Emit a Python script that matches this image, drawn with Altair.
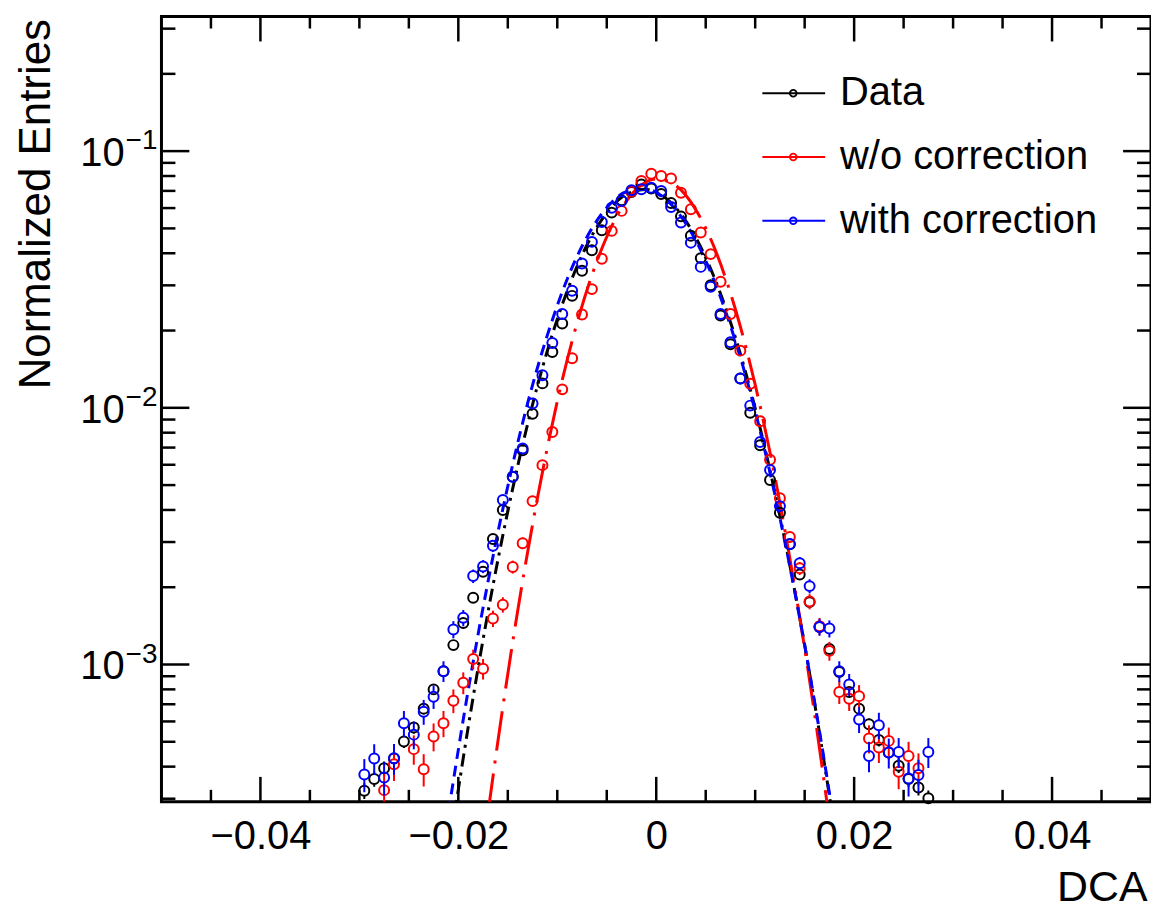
import altair as alt
import pandas as pd

FONT = "Liberation Sans"

# ---------------- data ----------------
dca_bins = [-0.0295, -0.0285, -0.0275, -0.0265, -0.0255, -0.0245, -0.0235, -0.0225, -0.0215, -0.0205,
            -0.0195, -0.0185, -0.0175, -0.0165, -0.0155, -0.0145, -0.0135, -0.0125, -0.0115, -0.0105,
            -0.0095, -0.0085, -0.0075, -0.0065, -0.0055, -0.0045, -0.0035, -0.0025, -0.0015, -0.0005,
            0.0005, 0.0015, 0.0025, 0.0035, 0.0045, 0.0055, 0.0065, 0.0075, 0.0085, 0.0095,
            0.0105, 0.0115, 0.0125, 0.0135, 0.0145, 0.0155, 0.0165, 0.0175, 0.0185, 0.0195,
            0.0205, 0.0215, 0.0225, 0.0235, 0.0245, 0.0255, 0.0265, 0.0275]

data_vals = [3.22e-4, 3.58e-4, 3.94e-4, 4.30e-4, 5.01e-4, 5.68e-4, 6.73e-4, 8.00e-4, 9.42e-4, 1.19e-3,
             1.45e-3, 1.82e-3, 2.30e-3, 3.08e-3, 4.00e-3, 5.39e-3, 6.84e-3, 9.49e-3, 1.245e-2, 1.65e-2,
             2.13e-2, 2.73e-2, 3.42e-2, 4.11e-2, 4.92e-2, 5.76e-2, 6.43e-2, 6.93e-2, 7.42e-2, 7.15e-2,
             6.81e-2, 6.28e-2, 5.57e-2, 4.68e-2, 3.83e-2, 3.00e-2, 2.29e-2, 1.77e-2, 1.30e-2, 9.56e-3,
             7.15e-3, 5.23e-3, 3.90e-3, 2.94e-3, 2.24e-3, 1.75e-3, 1.40e-3, 1.15e-3, 9.35e-4, 7.81e-4,
             6.73e-4, 5.85e-4, 5.08e-4, 4.54e-4, 4.03e-4, 3.58e-4, 3.32e-4, 3.01e-4]

wo_vals = [None, None, 3.24e-4, 4.09e-4, None, 4.68e-4, 3.91e-4, 5.24e-4, 5.90e-4, 7.23e-4,
           8.49e-4, 1.05e-3, 9.62e-4, 1.51e-3, 1.71e-3, 2.40e-3, 2.97e-3, 4.33e-3, 5.98e-3, 8.05e-3,
           1.18e-2, 1.56e-2, 2.31e-2, 2.90e-2, 3.81e-2, 4.89e-2, 5.85e-2, 6.96e-2, 7.65e-2, 8.16e-2,
           8.00e-2, 7.83e-2, 6.89e-2, 5.94e-2, 4.82e-2, 3.97e-2, 3.10e-2, 2.32e-2, 1.67e-2, 1.24e-2,
           8.87e-3, 6.27e-3, 4.44e-3, 3.14e-3, 2.37e-3, 1.76e-3, 1.41e-3, 1.13e-3, 7.81e-4, 7.36e-4,
           7.53e-4, 5.15e-4, 4.75e-4, 5.04e-4, 3.82e-4, 4.40e-4, 3.94e-4, None]

with_vals = [3.73e-4, 4.30e-4, 3.63e-4, 4.31e-4, 5.90e-4, 5.33e-4, 6.55e-4, 7.49e-4, 9.42e-4, 1.37e-3,
             1.52e-3, 2.21e-3, 2.41e-3, 2.90e-3, 4.37e-3, 5.39e-3, 6.94e-3, 1.04e-2, 1.34e-2, 1.79e-2,
             2.32e-2, 2.86e-2, 3.65e-2, 4.43e-2, 5.30e-2, 6.02e-2, 6.39e-2, 7.04e-2, 7.10e-2, 7.20e-2,
             6.99e-2, 6.06e-2, 5.27e-2, 4.40e-2, 3.54e-2, 2.96e-2, 2.32e-2, 1.80e-2, 1.30e-2, 1.02e-2,
             7.36e-3, 5.72e-3, 4.14e-3, 2.95e-3, 2.48e-3, 2.02e-3, 1.40e-3, 1.38e-3, 9.42e-4, 8.36e-4,
             6.11e-4, 4.40e-4, 5.80e-4, 4.54e-4, 4.56e-4, 3.60e-4, 3.71e-4, 4.56e-4]

series_names = ["Data", "w/o correction", "with correction"]
series_colors = ["#000000", "#ff0000", "#0000ff"]
# relative statistical uncertainty at an entry level of 1e-3
rel_err_at_1e3 = [0.04, 0.09, 0.09]

# fit curves
fit_data_x = [-0.0205, -0.019, -0.017, -0.015, -0.013, -0.011, -0.009, -0.007, -0.005, -0.003, -0.001,
              0.001, 0.003, 0.005, 0.007, 0.009, 0.011, 0.013, 0.015, 0.017, 0.018]
fit_data_y = [2.44e-4, 5.71e-4, 1.60e-3, 3.95e-3, 8.63e-3, 1.67e-2, 2.85e-2, 4.31e-2, 5.75e-2, 6.79e-2, 7.09e-2,
              6.55e-2, 5.34e-2, 3.85e-2, 2.46e-2, 1.39e-2, 6.92e-3, 3.05e-3, 1.19e-3, 4.10e-4, 2.30e-4]
fit_wo_x = [-0.017, -0.016, -0.014, -0.012, -0.010, -0.008, -0.006, -0.004, -0.002, 0.0,
            0.002, 0.004, 0.006, 0.008, 0.010, 0.012, 0.014, 0.016, 0.0175]
fit_wo_y = [2.64e-4, 5.02e-4, 1.62e-3, 4.46e-3, 1.06e-2, 2.14e-2, 3.72e-2, 5.56e-2, 7.11e-2, 7.79e-2,
            7.33e-2, 5.91e-2, 4.09e-2, 2.42e-2, 1.23e-2, 5.37e-3, 2.00e-3, 6.43e-4, 2.47e-4]
fit_with_x = [-0.021, -0.019, -0.017, -0.015, -0.013, -0.011, -0.009, -0.007, -0.005, -0.003, -0.001,
              0.001, 0.003, 0.005, 0.007, 0.009, 0.011, 0.013, 0.015, 0.017, 0.018]
fit_with_y = [2.66e-4, 7.95e-4, 2.10e-3, 4.95e-3, 1.04e-2, 1.92e-2, 3.17e-2, 4.63e-2, 6.02e-2, 6.95e-2, 7.11e-2,
              6.47e-2, 5.22e-2, 3.74e-2, 2.38e-2, 1.35e-2, 6.76e-3, 3.01e-3, 1.19e-3, 4.18e-4, 2.37e-4]

# axis ticks / labels
x_major_ticks = [-0.04, -0.02, 0.0, 0.02, 0.04]
x_minor_ticks = [-0.045, -0.035, -0.03, -0.025, -0.015, -0.01, -0.005,
                 0.005, 0.01, 0.015, 0.025, 0.03, 0.035, 0.045]
y_major_ticks = [1e-3, 1e-2, 1e-1]
y_major_exps = ["\u22123", "\u22122", "\u22121"]
y_minor_ticks = [3e-4, 4e-4, 5e-4, 6e-4, 7e-4, 8e-4, 9e-4,
                 2e-3, 3e-3, 4e-3, 5e-3, 6e-3, 7e-3, 8e-3, 9e-3,
                 2e-2, 3e-2, 4e-2, 5e-2, 6e-2, 7e-2, 8e-2, 9e-2,
                 2e-1, 3e-1]

# ---------------- layout ----------------
W, H = 993, 788
Y_LO, Y_HI = 2.918e-4, 0.3344
MARKER_R = 5.2  # px, open-circle radius; error bars stop at the marker edge
DECADE_PX = H / (__import__("math").log10(Y_HI) - __import__("math").log10(Y_LO))
GAP = 10 ** (MARKER_R / DECADE_PX)

# ---------------- build tables ----------------
pt_rows, bar_rows = [], []
for name, vals, rel in zip(series_names, [data_vals, wo_vals, with_vals], rel_err_at_1e3):
    for x, v in zip(dca_bins, vals):
        if v is None:
            continue
        err = v * rel * (1e-3 / v) ** 0.5
        pt_rows.append({"dca": x, "val": v, "series": name})
        lo, hi = v - err, v + err
        if lo < v / GAP:
            bar_rows.append({"dca": x, "a": lo, "b": v / GAP, "series": name})
        if hi > v * GAP:
            bar_rows.append({"dca": x, "a": v * GAP, "b": hi, "series": name})
pts = pd.DataFrame(pt_rows)
bars = pd.DataFrame(bar_rows)

xscale = alt.Scale(domain=[-0.05, 0.05], nice=False, zero=False)
yscale = alt.Scale(type="log", domain=[Y_LO, Y_HI], nice=False)
cscale = alt.Scale(domain=series_names, range=series_colors)

x_axis = alt.Axis(values=x_major_ticks, title="DCA", grid=False, domain=False, ticks=False, tickSize=0,
                  labelExpr="datum.value == 0 ? '0' : replace(format(datum.value, '.2f'), '-', '\u2212')",
                  labelFont=FONT, labelFontSize=40, labelColor="black", labelPadding=35,
                  labelBaseline="middle", labelFlush=False, labelOverlap=False,
                  titleFont=FONT, titleFontSize=43, titleFontWeight="normal", titleColor="black",
                  titleAlign="right", titleBaseline="middle", titleX=W - 4, titleY=86)
y_axis = alt.Axis(labels=False, grid=False, domain=False, ticks=False, tickSize=0,
                  title="Normalized Entries", titleFont=FONT, titleFontSize=44, titleFontWeight="normal",
                  titleColor="black", titleAngle=270, titleAlign="right", titleBaseline="middle",
                  titleX=-125, titleY=2)


def X(field):
    return alt.X(field, type="quantitative", scale=xscale, axis=x_axis)


def Y(field):
    return alt.Y(field, type="quantitative", scale=yscale, axis=y_axis)


layers = []

# fit curves
fit_specs = [(fit_data_x, fit_data_y, "#000000", [13, 6, 3, 6]),
             (fit_wo_x, fit_wo_y, "#ff0000", [40, 10, 3, 10]),
             (fit_with_x, fit_with_y, "#0000ff", [11, 7])]
for fx, fy, col, dash in fit_specs:
    df = pd.DataFrame({"dca": fx, "val": fy})
    layers.append(alt.Chart(df).mark_line(color=col, strokeWidth=3, strokeDash=dash, clip=True,
                                          interpolate="monotone")
                  .encode(x=X("dca"), y=Y("val")))

# error bars and points
for name in series_names:
    bsub = bars[bars.series == name]
    psub = pts[pts.series == name]
    if len(bsub):
        layers.append(alt.Chart(bsub).mark_rule(strokeWidth=2, clip=True).encode(
            x=X("dca"), y=Y("a"), y2="b",
            color=alt.Color("series:N", scale=cscale, legend=None)))
    layers.append(alt.Chart(psub).mark_point(shape="circle", filled=False, size=100, strokeWidth=2,
                                             opacity=1).encode(
        x=X("dca"), y=Y("val"),
        color=alt.Color("series:N", scale=cscale, legend=None)))

# inward ticks on all four sides
xt_major = pd.DataFrame({"t": x_major_ticks})
xt_minor = pd.DataFrame({"t": x_minor_ticks})
yt_major = pd.DataFrame({"t": y_major_ticks, "e": y_major_exps})
yt_minor = pd.DataFrame({"t": y_minor_ticks})
for df, ln in [(xt_major, 25), (xt_minor, 12)]:
    layers.append(alt.Chart(df).mark_rule(color="black", strokeWidth=2.5).encode(
        x=X("t"), y=alt.value(H), y2=alt.value(H - ln)))
    layers.append(alt.Chart(df).mark_rule(color="black", strokeWidth=2.5).encode(
        x=X("t"), y=alt.value(0), y2=alt.value(ln)))
for df, ln in [(yt_major, 28), (yt_minor, 14)]:
    layers.append(alt.Chart(df).mark_rule(color="black", strokeWidth=2.5).encode(
        y=Y("t"), x=alt.value(0), x2=alt.value(ln)))
    layers.append(alt.Chart(df).mark_rule(color="black", strokeWidth=2.5).encode(
        y=Y("t"), x=alt.value(W), x2=alt.value(W - ln)))

# y tick labels 10^n
layers.append(alt.Chart(yt_major).mark_text(font=FONT, fontSize=40, align="right", baseline="middle",
                                            dy=3, color="black").encode(
    y=Y("t"), x=alt.value(-37), text=alt.value("10")))
layers.append(alt.Chart(yt_major).mark_text(font=FONT, fontSize=28, align="left", baseline="middle",
                                            dy=-10, color="black").encode(
    y=Y("t"), x=alt.value(-36), text="e:N"))

# legend
for i, (name, col) in enumerate(zip(series_names, series_colors)):
    ly = 77 + 64 * i
    ldf = pd.DataFrame({"label": [name]})
    layers.append(alt.Chart(ldf).mark_rule(color=col, strokeWidth=2).encode(
        x=alt.value(603), x2=alt.value(666), y=alt.value(ly)))
    layers.append(alt.Chart(ldf).mark_point(shape="circle", filled=False, size=45, strokeWidth=1.8,
                                            color=col, opacity=1).encode(
        x=alt.value(634), y=alt.value(ly)))
    layers.append(alt.Chart(ldf).mark_text(font=FONT, fontSize=40, align="left", baseline="middle",
                                           color="black").encode(
        x=alt.value(681), y=alt.value(ly), text="label:N"))

chart = alt.layer(*layers).properties(
    width=W, height=H,
    autosize=alt.AutoSizeParams(type="none"),
    padding={"left": 154, "top": 7, "right": 0, "bottom": 110},
    background="white",
).configure_view(stroke="black", strokeWidth=3)

chart.save("out.html", embed_options={"renderer": "svg", "actions": False})
